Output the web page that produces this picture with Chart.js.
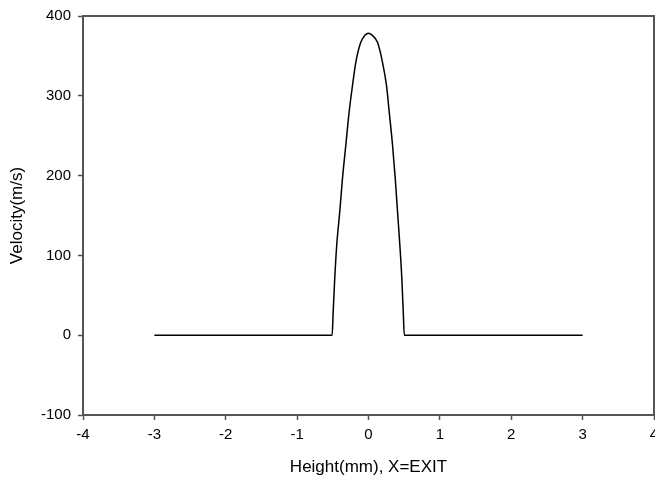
<!DOCTYPE html>
<html>
<head>
<meta charset="utf-8">
<script src="https://cdn.jsdelivr.net/npm/chart.js@4/dist/chart.umd.min.js"></script>
<style>
  html, body { margin: 0; padding: 0; background: #fff; }
  #wrap { width: 655px; height: 482px; }
</style>
</head>
<body>
<div id="wrap"><canvas id="velChart" width="655" height="482"></canvas></div>
<script>
// velocity profile at the exit, height in mm
var heights = [-3, -2, -1, -0.509, -0.495, -0.473, -0.445, -0.403, -0.365, -0.318, -0.271, -0.224, -0.178, -0.108, -0.05, 0,
               0.05, 0.126, 0.196, 0.252, 0.29, 0.337, 0.375, 0.407, 0.439, 0.467, 0.487, 0.502, 1, 2, 3];
var velocity = [0, 0, 0, 0, 29, 71, 113, 154.5, 196, 238, 280, 313, 342, 367, 376, 378.5,
                376, 367, 342, 313, 280, 238, 196, 154.5, 113, 71, 29, 0, 0, 0, 0];

var xTicks = [-4, -3, -2, -1, 0, 1, 2, 3, 4];
var yTicks = [-100, 0, 100, 200, 300, 400];

var points = heights.map(function (h, i) { return { x: h, y: velocity[i] }; });

var axisColor = '#555';
var font = { family: 'Liberation Sans, Arial, sans-serif', size: 15 };
var titleFont = { family: 'Liberation Sans, Arial, sans-serif', size: 17 };

// box around the plot area (top and right edges)
var frame = {
    id: 'frame',
    afterDraw: function (chart) {
        var a = chart.chartArea, ctx = chart.ctx;
        ctx.save();
        ctx.strokeStyle = axisColor;
        ctx.lineWidth = 2;
        ctx.beginPath();
        ctx.moveTo(a.left, a.top);
        ctx.lineTo(a.right, a.top);
        ctx.lineTo(a.right, a.bottom);
        ctx.stroke();
        ctx.restore();
    }
};

var velChart = new Chart(document.getElementById('velChart').getContext('2d'), {
    type: 'line',
    data: {
        datasets: [{
            data: points,
            borderColor: '#000',
            borderWidth: 1.5,
            pointRadius: 0,
            fill: false,
            cubicInterpolationMode: 'monotone'
        }]
    },
    options: {
        responsive: false,
        animation: false,
        layout: { padding: { top: 15, right: 1, left: 3, bottom: 0 } },
        plugins: { legend: { display: false }, tooltip: { enabled: false } },
        scales: {
            x: {
                type: 'linear',
                min: -4, max: 4,
                afterBuildTicks: function (s) { s.ticks = xTicks.map(function (v) { return { value: v }; }); },
                afterFit: function (s) { s.height = 67; s.paddingLeft = 0; s.paddingRight = 0; },
                grid: { drawOnChartArea: false, drawTicks: true, tickLength: 5, tickColor: axisColor, tickWidth: 1.5 },
                border: { display: true, color: axisColor, width: 2 },
                ticks: { color: '#000', font: font, padding: 6, maxRotation: 0 },
                title: { display: true, text: 'Height(mm), X=EXIT', color: '#000', font: titleFont, padding: { top: 10 } }
            },
            y: {
                min: -100, max: 400,
                afterBuildTicks: function (s) { s.ticks = yTicks.map(function (v) { return { value: v }; }); },
                afterFit: function (s) { s.width = 80; },
                grid: { drawOnChartArea: false, drawTicks: true, tickLength: 5, tickColor: axisColor, tickWidth: 1.5 },
                border: { display: true, color: axisColor, width: 2 },
                ticks: { color: '#000', font: font, padding: 7 },
                title: { display: true, text: 'Velocity(m/s)', color: '#000', font: titleFont, padding: { bottom: 0 } }
            }
        }
    },
    plugins: [frame]
});
</script>
</body>
</html>
